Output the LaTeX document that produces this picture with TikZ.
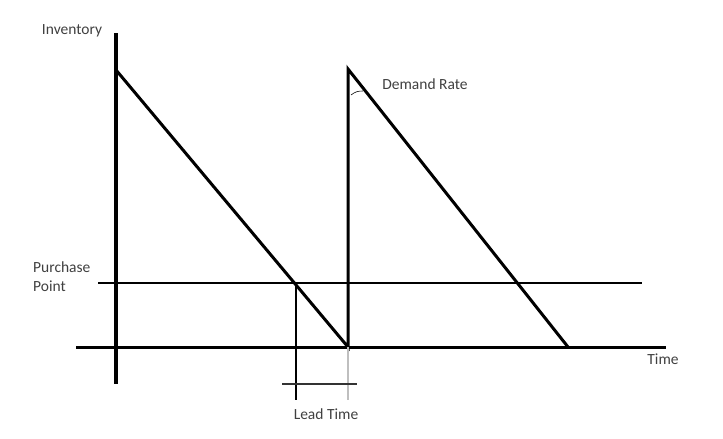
\documentclass[tikz,border=0pt]{standalone}
\usepackage{fontspec}
\setmainfont{Carlito}
\begin{document}
\begin{tikzpicture}[x=1pt,y=-1pt,
  lbl/.style={font=\fontsize{15.5}{19}\selectfont, text=black!75, inner sep=0pt},
  thickline/.style={line width=3pt},
  thinline/.style={line width=1.1pt},
  leadline/.style={line width=1.4pt}]
\useasboundingbox (0,0) rectangle (723,439);
% coordinates
\coordinate (vtop) at (116,33);
\coordinate (vbot) at (116,384);
\coordinate (hl) at (76,347);
\coordinate (hr) at (666,347);
\coordinate (p1) at (116,70);
\coordinate (z1) at (348,347);
\coordinate (p2) at (348,69);
\coordinate (z2) at (568,347);
\coordinate (ppl) at (98,283);
\coordinate (ppr) at (642,283);
\coordinate (lt1) at (296,283);
\coordinate (lt1b) at (296,400);
\coordinate (lt2b) at (348,400);
\coordinate (brl) at (282,384);
\coordinate (brr) at (357,384);
\coordinate (a1) at (351,95);
\coordinate (a2) at (363,91);
% axes
\draw[line width=4pt] (vtop) -- (vbot);
\draw[thickline] (hl) -- (hr);
% purchase point line
\draw[thinline] (ppl) -- (ppr);
% sawtooth
\draw[thickline, line join=miter] (p1) -- (z1) -- (p2) -- (z2);
% lead time
\draw[leadline] (lt1) -- (lt1b);
\draw[leadline, black!25] (z1) -- (lt2b);
\draw[thinline, black!80] (brl) -- (brr);
% angle mark
\draw[line width=0.6pt] (a1) to[bend left=20] (a2);
% labels
\node[lbl] (inv) at (72,31) {Inventory};
\node[lbl, align=left, anchor=west] (pp) at (33,277) {Purchase\\Point};
\node[lbl] (time) at (663,359) {Time};
\node[lbl] (dr) at (425,84) {Demand Rate};
\node[lbl] (lt) at (326,414) {Lead Time};
\end{tikzpicture}
\end{document}
